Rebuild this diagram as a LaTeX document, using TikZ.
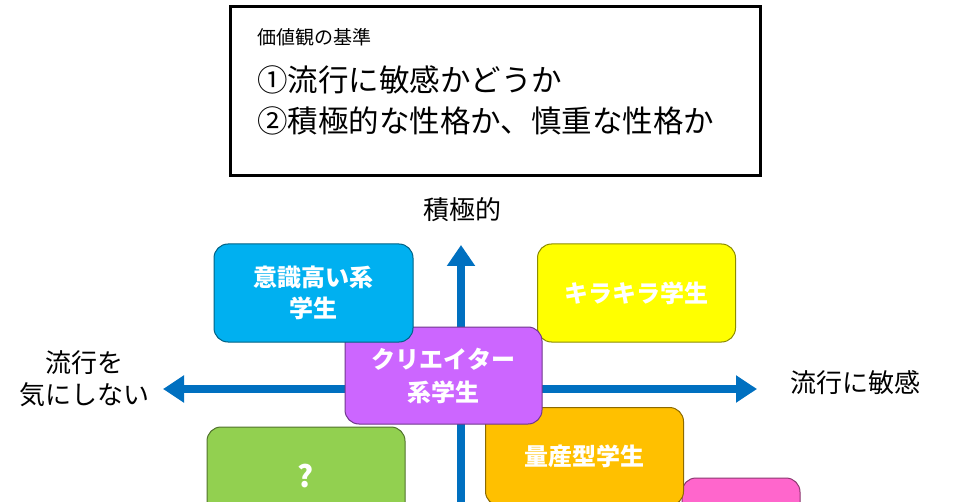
\documentclass[tikz,border=0pt]{standalone}
\usepackage{fontspec}
\newfontfamily\jp{Noto Sans CJK JP}
\usetikzlibrary{arrows.meta}
\definecolor{axisblue}{HTML}{0070C0}
\definecolor{cyanbox}{HTML}{00B0F0}
\definecolor{yellowbox}{HTML}{FFFF00}
\definecolor{purplebox}{HTML}{CC66FF}
\definecolor{greenbox}{HTML}{92D050}
\definecolor{orangebox}{HTML}{FFC000}
\definecolor{pinkbox}{HTML}{FF66CC}
\tikzset{
  catbox/.style={rounded corners=14pt, minimum width=198pt, minimum height=98pt,
    line width=1pt, draw=#1!55!black, fill=#1, text=white, align=center, inner sep=0pt,
    font=\jp\bfseries\fontsize{24}{31}\selectfont},
  axislabel/.style={font=\jp\fontsize{26}{32}\selectfont, align=center, inner sep=0pt},
  axisline/.style={line width=7.5pt, draw=axisblue},
  toptext/.style={anchor=west, inner sep=0pt, text=black}
}
\begin{document}
\begin{tikzpicture}[x=1pt,y=-1pt]
\clip (0,0) rectangle (960,502);
\fill[white] (0,0) rectangle (960,502);
% criteria box
\node[draw=black, line width=3pt, minimum width=530pt, minimum height=169pt, inner sep=0pt] (crit) at (495.5,91) {};
\node[toptext, font=\jp\fontsize{19}{19}\selectfont] (critTitle) at (257,37) {価値観の基準};
\node[toptext, font=\jp\fontsize{30.5}{30.5}\selectfont] (critA) at (257,80) {①流行に敏感かどうか};
\node[toptext, font=\jp\fontsize{30.5}{30.5}\selectfont] (critB) at (257,121) {②積極的な性格か、慎重な性格か};
% axes
\coordinate (axL) at (163,389);
\coordinate (axR) at (757,389);
\coordinate (axT) at (461,245);
\coordinate (axB) at (461,510);
\draw[axisline, -{Triangle[length=21pt,width=27pt]}] (axB) -- (axT);
\draw[axisline, {Triangle[length=21pt,width=26pt]}-{Triangle[length=21pt,width=26pt]}] (axL) -- (axR);
% axis labels
\node[axislabel] (lblTop) at (462,210) {積極的};
\node[axislabel] (lblRight) at (855,383) {流行に敏感};
\node[axislabel] (lblLeft) at (84,379) {流行を\\気にしない};
% category boxes
\node[catbox=yellowbox] (kira) at (636.5,293) {キラキラ学生};
\node[catbox=pinkbox, minimum width=118pt] (pink) at (741,527) {};
\node[catbox=orangebox] (ryosan) at (584.5,456.5) {量産型学生};
\node[catbox=purplebox, minimum width=197pt, minimum height=97pt, font=\jp\bfseries\fontsize{24}{33}\selectfont] (creator) at (443.5,375.5) {クリエイター\\系学生};
\node[catbox=cyanbox, minimum width=199pt] (ishiki) at (313.5,293) {意識高い系\\学生};
\node[catbox=greenbox, font=\jp\bfseries\fontsize{30}{30}\selectfont] (q) at (306,476) {?};
\end{tikzpicture}
\end{document}
